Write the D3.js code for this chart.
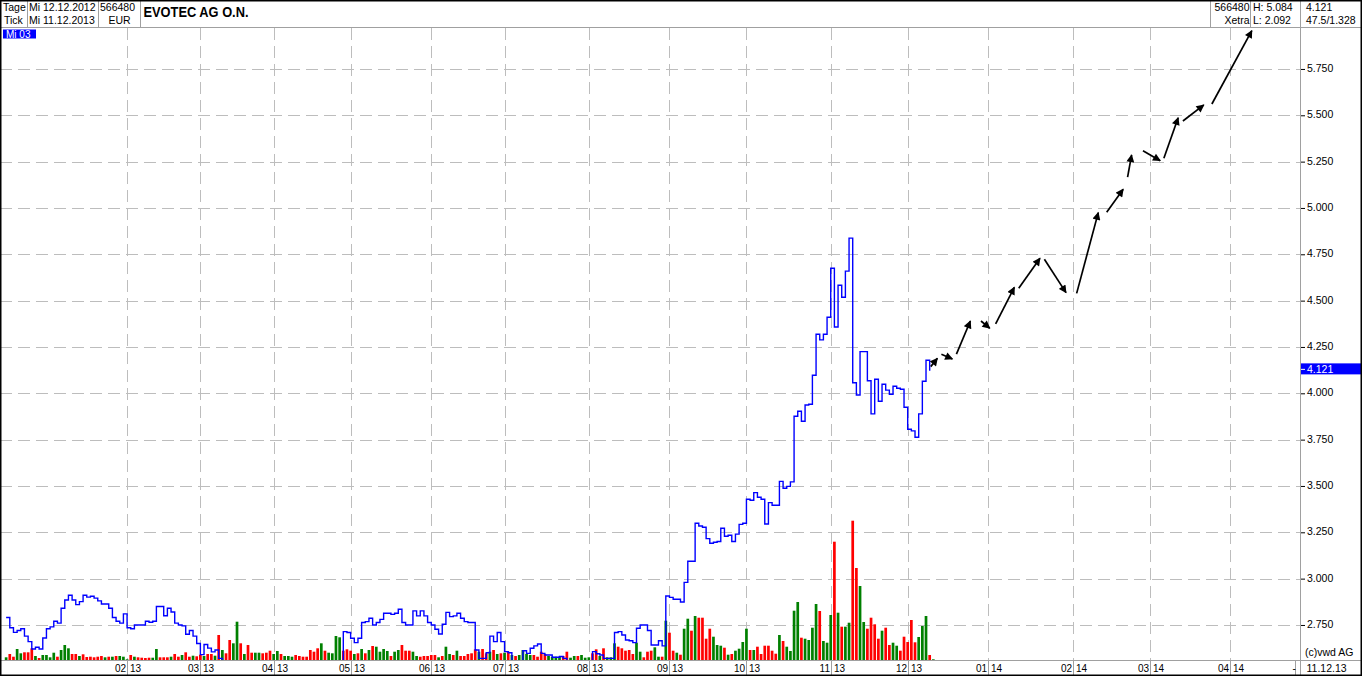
<!DOCTYPE html>
<html>
<head>
<meta charset="utf-8">
<script src="https://cdn.jsdelivr.net/npm/d3@7"></script>
<style>
  body { margin: 0; background: #fff; }
  text { font-family: "Liberation Sans", Arial, sans-serif; }
</style>
</head>
<body>
<div id="chart"></div>
<script>
// daily closes, Xetra, 12.12.2012 .. 11.12.2013 (one value per trading day)
var closes = [
  2.79, 2.735, 2.71, 2.72, 2.73, 2.69, 2.66, 2.62, 2.63, 2.62, 2.68, 2.73, 2.74, 2.77, 2.76, 2.84,
  2.885, 2.91, 2.885, 2.86, 2.876, 2.91, 2.90, 2.905, 2.895, 2.88, 2.863, 2.863, 2.84, 2.79, 2.77, 2.76, 2.81,
  2.735, 2.73, 2.75, 2.75, 2.75, 2.77, 2.765, 2.77, 2.85, 2.85, 2.80, 2.84, 2.82, 2.76, 2.75, 2.745,
  2.70, 2.72, 2.69, 2.65, 2.59, 2.645, 2.625, 2.605, 2.615, 2.57,
  2.52, 2.48, 2.45, 2.40, 2.35, 2.30, 2.28, 2.22, 2.18, 2.15, 2.12, 2.10, 2.13, 2.17, 2.20, 2.19,
  2.24, 2.28, 2.31, 2.30, 2.34, 2.38, 2.36, 2.40, 2.43, 2.45, 2.42, 2.46, 2.49, 2.47, 2.51, 2.53,
  2.54, 2.714, 2.709, 2.678, 2.655, 2.678, 2.763, 2.768, 2.786, 2.75, 2.763, 2.78, 2.813, 2.813,
  2.807, 2.813, 2.835, 2.763, 2.75, 2.75, 2.826, 2.799, 2.826, 2.799, 2.763, 2.75, 2.727, 2.701,
  2.754, 2.818, 2.795, 2.799, 2.813, 2.786, 2.768, 2.763, 2.763,
  2.615, 2.57, 2.57, 2.60, 2.69, 2.66, 2.709, 2.66, 2.606, 2.60, 2.55, 2.54, 2.55, 2.611, 2.597,
  2.624, 2.637, 2.647, 2.597, 2.588, 2.588, 2.576, 2.576, 2.58, 2.57, 2.55, 2.54, 2.53, 2.53, 2.54,
  2.55, 2.55, 2.606, 2.595, 2.588, 2.57, 2.57, 2.57, 2.709, 2.714, 2.696, 2.669, 2.665, 2.655,
  2.732, 2.75, 2.75, 2.72, 2.642, 2.642, 2.665, 2.637, 2.906,
  2.899, 2.889, 2.889, 2.874, 2.98, 3.094, 3.094, 3.299, 3.284, 3.277, 3.216, 3.191, 3.196, 3.2,
  3.272, 3.229, 3.234, 3.2, 3.24, 3.293, 3.299, 3.428, 3.423, 3.464, 3.439, 3.428, 3.295, 3.41,
  3.396, 3.396, 3.525, 3.488, 3.498, 3.522, 3.876, 3.903, 3.849, 3.937, 3.941, 4.097, 4.319, 4.288,
  4.319, 4.41, 4.675, 4.358, 4.583, 4.518, 4.659, 4.837, 4.057, 3.991, 4.225, 4.225, 4.068, 3.889,
  4.076, 3.957, 4.049, 4.017, 3.995, 4.038, 4.027, 4.022, 3.925, 3.806, 3.797, 3.763, 3.889, 4.065,
  4.178, 4.121
];

// daily turnover (thousand shares)
var volumes = [
  27, 60, 33, 110, 67, 77, 77, 117, 40, 20, 50, 50, 27, 73, 33, 100, 150, 117, 60, 60, 40, 57, 30, 33,
  27, 33, 40, 27, 33, 33, 40, 40, 33, 7, 50, 33, 27, 23, 20, 23, 23, 110, 27, 27, 27, 33, 60, 33, 50,
  77, 33, 43, 37, 53, 40, 60, 60, 43, 250,
  100, 67, 200, 167, 383, 167, 60, 150, 73, 73, 73, 67, 73, 93, 60, 90, 60, 40, 40, 33, 50, 40, 33, 33,
  100, 83, 117, 167, 93, 73, 67, 240, 227, 93, 107, 93, 60, 67, 110, 67, 100, 140, 133, 83, 110, 90,
  40, 83, 100, 150, 93, 93, 83, 40, 33, 40, 40, 50, 50, 27, 40, 133, 60, 50, 93, 40, 40, 60, 67, 107,
  83, 110, 67, 83, 100, 60, 67, 73, 83, 50, 40, 50, 100, 60, 50, 50, 33, 83, 60, 40, 33, 33, 33, 40,
  83, 23, 40, 40, 50, 23, 27, 67, 107, 40, 117, 27, 27, 167, 133, 117, 93, 100, 60, 173, 83, 27, 83,
  93, 127, 33, 33, 393, 273,
  93, 73, 53, 313, 413, 293, 440, 423, 423, 213, 313, 233, 150, 143, 123, 53, 60, 93, 113, 180, 313,
  100, 100, 133, 60, 143, 143, 93, 63, 250, 190, 133, 90, 493, 580, 223, 213, 200, 323, 560, 490, 190,
  173, 450, 1183, 473, 333, 333, 373, 1393, 920, 740, 380, 313, 423, 357, 213, 293, 323, 150, 173, 143,
  93, 233, 180, 400, 177, 230, 340, 440, 50, 7
];

// 1 = green (up) bar, 0 = red (down) bar
var volUp = [
  1,0,0,1,1,0,0,0,1,0,1,1,1,1,0,1,1,1,0,0,1,0,0,0,0,0,0,1,0,1,0,1,1,1,0,1,0,0,0,0,1,1,0,0,0,1,0,0,1,
  0,0,1,0,0,1,0,0,1,0,
  1,0,0,1,1,0,1,0,0,1,1,0,0,0,1,1,0,1,1,1,0,0,0,0,0,0,0,1,0,1,1,1,1,0,0,0,1,0,1,0,1,0,1,1,1,1,
  0,1,1,0,0,0,1,1,0,0,0,0,0,1,0,1,1,0,1,0,0,0,0,0,1,0,0,1,0,1,0,1,0,1,0,1,1,1,1,0,0,0,0,1,1,1,1,0,
  0,1,1,0,1,1,1,0,0,1,0,1,1,1,0,0,0,0,0,1,1,0,0,0,1,1,0,1,0,
  0,1,0,1,1,0,1,0,0,0,0,1,1,1,0,1,0,1,1,1,1,0,1,0,0,0,0,0,0,1,0,1,1,1,1,0,1,1,1,1,0,1,1,1,0,1,0,1,1,
  0,0,1,1,0,0,0,0,1,0,0,1,1,0,0,0,0,0,1,1,1,0,1
];

// month gridlines: label parts and trading-day index of the first day
var monthLabels = ["02", "03", "04", "05", "06", "07", "08", "09", "10", "11", "12", "01", "02", "03", "04"];
var yearLabels  = ["13", "13", "13", "13", "13", "13", "13", "13", "13", "13", "13", "14", "14", "14", "14"];
var monthDays   = [33, 53, 73, 94, 116, 136, 159, 181, 202, 225, 246, 268, 291, 312, 334];

var priceTicks = [2.75, 3.0, 3.25, 3.5, 3.75, 4.0, 4.25, 4.5, 4.75, 5.0, 5.25, 5.5, 5.75];

// hand-drawn forecast arrows: [fromDay, fromPrice, toDay, toPrice]
var arrows = [
  [252.3, 4.144, 254.1, 4.189],
  [255.2, 4.211, 258.2, 4.185],
  [259.3, 4.211, 263.1, 4.390],
  [266.0, 4.390, 268.4, 4.351],
  [270.0, 4.374, 275.1, 4.572],
  [276.3, 4.567, 282.1, 4.729],
  [283.3, 4.723, 289.2, 4.543],
  [292.1, 4.539, 298.0, 4.975],
  [300.3, 4.977, 304.8, 5.101],
  [306.0, 5.166, 307.1, 5.286],
  [310.2, 5.309, 314.9, 5.255],
  [315.9, 5.268, 319.8, 5.487],
  [321.1, 5.469, 326.8, 5.556],
  [329.0, 5.561, 339.9, 5.957]
];

var headerLeft = [["Tage", "Mi 12.12.2012", "566480"], ["Tick", "Mi 11.12.2013", "EUR"]];
var headerRight = [["566480", "H: 5.084", "4.121"], ["Xetra", "L: 2.092", "47.5/1.328"]];
var title = "EVOTEC AG O.N.";
var lastDate = "11.12.13";

(function () {
  "use strict";

  var width = 1362, height = 676;
  var plotLeft = 3.2, plotRight = 1298, plotTop = 28, plotBottom = 660,
      frameRight = 1300.5, headH = 27.5;

  var gridColor = "#bdbdbd", lineColor = "#a0a0a0";

  var svg = d3.select("#chart").append("svg")
    .attr("width", width)
    .attr("height", height);

  var x = d3.scaleLinear().domain([-0.8, 352.5]).range([plotLeft, plotRight]);
  var y = d3.scaleLinear().domain([2.561, 5.971]).range([plotBottom, plotTop]);
  var v = d3.scaleLinear().domain([0, 1400]).range([plotBottom, plotBottom - 140]);

  var defs = svg.append("defs");
  defs.append("clipPath").attr("id", "plotClip")
    .append("rect")
    .attr("x", 0).attr("y", plotTop)
    .attr("width", frameRight).attr("height", plotBottom - plotTop);
  defs.append("marker")
    .attr("id", "head")
    .attr("viewBox", "0 0 10 10")
    .attr("refX", 9).attr("refY", 5)
    .attr("markerWidth", 9).attr("markerHeight", 8)
    .attr("markerUnits", "userSpaceOnUse")
    .attr("orient", "auto")
    .append("path").attr("d", "M0,0L10,5L0,10Z").attr("fill", "#000");

  //Gridlines
  var grid = svg.append("g").attr("class", "grid");
  grid.selectAll("line.h")
    .data(priceTicks)
    .enter().append("line")
    .attr("class", "h")
    .attr("x1", 0).attr("x2", frameRight)
    .attr("y1", function (d) { return Math.round(y(d)) + 0.5; })
    .attr("y2", function (d) { return Math.round(y(d)) + 0.5; })
    .attr("stroke", gridColor)
    .attr("stroke-dasharray", "12,6");

  grid.selectAll("line.v")
    .data(monthDays)
    .enter().append("line")
    .attr("class", "v")
    .attr("x1", function (d) { return Math.round(x(d)) + 0.5; })
    .attr("x2", function (d) { return Math.round(x(d)) + 0.5; })
    .attr("y1", plotTop).attr("y2", plotBottom)
    .attr("stroke", gridColor)
    .attr("stroke-dasharray", "12,6");

  //Volume bars
  svg.append("g").attr("class", "volume")
    .selectAll("rect")
    .data(volumes)
    .enter().append("rect")
    .attr("x", function (d, i) { return x(i) - 1.35; })
    .attr("y", function (d) { return v(d); })
    .attr("width", 2.7)
    .attr("height", function (d) { return plotBottom - v(d); })
    .attr("fill", function (d, i) { return volUp[i] ? "#008000" : "#ff0000"; });

  //Price line
  var line = d3.line()
    .x(function (d, i) { return x(i); })
    .y(function (d) { return y(d); })
    .curve(d3.curveStepAfter);

  svg.append("path")
    .datum(closes)
    .attr("clip-path", "url(#plotClip)")
    .attr("d", line)
    .attr("fill", "none")
    .attr("stroke", "#0000ff")
    .attr("stroke-width", 1.4);

  //Forecast arrows
  svg.append("g").attr("class", "arrows")
    .selectAll("line")
    .data(arrows)
    .enter().append("line")
    .attr("x1", function (d) { return x(d[0]); })
    .attr("y1", function (d) { return y(d[1]); })
    .attr("x2", function (d) { return x(d[2]); })
    .attr("y2", function (d) { return y(d[3]); })
    .attr("stroke", "#000")
    .attr("stroke-width", 1.7)
    .attr("marker-end", "url(#head)");

  //Frame lines
  var frame = svg.append("g").attr("class", "frame").attr("stroke", lineColor);
  frame.append("line").attr("x1", 0).attr("x2", width).attr("y1", headH).attr("y2", headH);
  frame.append("line").attr("x1", 0).attr("x2", width).attr("y1", plotBottom + 0.5).attr("y2", plotBottom + 0.5);
  frame.append("line").attr("x1", frameRight).attr("x2", frameRight).attr("y1", 0).attr("y2", height);
  [27.5, 98.5, 140.5, 1210.5, 1250.5].forEach(function (cx) {
    frame.append("line").attr("x1", cx).attr("x2", cx).attr("y1", 0).attr("y2", headH);
  });
  frame.selectAll("line.sep")
    .data(monthDays.concat([351.7]))
    .enter().append("line")
    .attr("class", "sep")
    .attr("x1", function (d) { return Math.round(x(d)) + 0.5; })
    .attr("x2", function (d) { return Math.round(x(d)) + 0.5; })
    .attr("y1", plotBottom).attr("y2", height);

  //Y axis
  var yAxis = svg.append("g")
    .attr("transform", "translate(" + (frameRight + 0.5) + ",0)")
    .call(d3.axisRight(y).tickValues(priceTicks).tickFormat(d3.format(".3f")).tickSize(4).tickPadding(2));
  yAxis.select(".domain").remove();
  yAxis.selectAll("text")
    .attr("fill", "#000")
    .attr("dy", "0.25em")
    .style("font-size", "10.5px")
    .style("font-family", "'Liberation Sans', Arial, sans-serif");
  yAxis.selectAll("line").attr("stroke", "#000");

  //Current price box
  var last = closes[closes.length - 1];
  var cur = svg.append("g").attr("transform", "translate(" + (frameRight + 0.5) + "," + (y(last) - 2) + ")");
  cur.append("rect").attr("x", 0).attr("y", -5.5).attr("width", 61).attr("height", 11).attr("fill", "#0000ff");
  cur.append("line").attr("x1", 0).attr("x2", 4).attr("y1", 0.5).attr("y2", 0.5).attr("stroke", "#fff");
  cur.append("text").attr("x", 6).attr("y", 4).attr("fill", "#fff")
    .style("font-size", "10.5px").text(d3.format(".3f")(last));

  //X axis labels
  var xl = svg.append("g").attr("class", "xlabels").style("font-size", "10px");
  xl.selectAll("text.m")
    .data(monthDays)
    .enter().append("text")
    .attr("class", "m")
    .attr("x", function (d) { return Math.round(x(d)) - 1; })
    .attr("y", 671.5)
    .attr("text-anchor", "end")
    .text(function (d, i) { return monthLabels[i]; });
  xl.selectAll("text.yr")
    .data(monthDays)
    .enter().append("text")
    .attr("class", "yr")
    .attr("x", function (d) { return Math.round(x(d)) + 3; })
    .attr("y", 671.5)
    .text(function (d, i) { return yearLabels[i]; });
  xl.append("text").attr("x", 1292.5).attr("y", 671.5).text("-");
  xl.append("text").attr("x", 1306.5).attr("y", 671.5).style("font-size", "10.5px").text(lastDate);

  svg.append("text").attr("x", 1305).attr("y", 656).style("font-size", "10.5px").text("(c)vwd AG");

  //Header
  var head = svg.append("g").style("font-size", "10.5px");
  var leftX = [3, 29, 100], rightX = [1249.5, 1253, 1306];
  headerLeft.forEach(function (row, r) {
    row.forEach(function (t, c) {
      var el = head.append("text").attr("y", r ? 24 : 10.5).text(t);
      if (r === 1 && c === 2) el.attr("x", 119.5).attr("text-anchor", "middle");
      else el.attr("x", leftX[c] + (r === 1 && c === 0 ? 1 : 0));
    });
  });
  headerRight.forEach(function (row, r) {
    row.forEach(function (t, c) {
      head.append("text").attr("y", r ? 24 : 10.5)
        .attr("x", rightX[c])
        .attr("text-anchor", c === 0 ? "end" : "start")
        .text(t);
    });
  });
  svg.append("text")
    .attr("x", 143.5).attr("y", 16.5)
    .attr("textLength", 105).attr("lengthAdjust", "spacingAndGlyphs")
    .style("font-size", "14px").style("font-weight", "bold")
    .text(title);

  //Date tag
  svg.append("rect").attr("x", 3).attr("y", 29.5).attr("width", 33).attr("height", 9).attr("fill", "#0000ff");
  svg.append("text").attr("x", 6).attr("y", 37.5).attr("fill", "#fff").style("font-size", "10px").text("Mi 03");

  //Outer border
  svg.append("rect")
    .attr("x", 0.75).attr("y", 0.75)
    .attr("width", width - 1.5).attr("height", height - 1.5)
    .attr("fill", "none").attr("stroke", "#000").attr("stroke-width", 1.5);
})();
</script>
</body>
</html>
